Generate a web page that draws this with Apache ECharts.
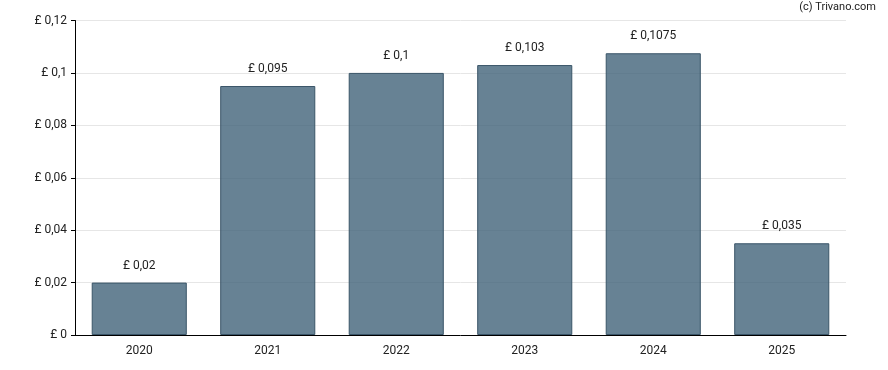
<!DOCTYPE html>
<html><head><meta charset="utf-8">
<script src="https://cdn.jsdelivr.net/npm/echarts@6/dist/echarts.min.js"></script>
<style>html,body{margin:0;padding:0;background:#fff}#c{width:888px;height:370px}</style>
</head><body><div id="c"></div>
<script>
const categories = ['2020','2021','2022','2023','2024','2025'];
const values = [0.02, 0.095, 0.1, 0.103, 0.1075, 0.035];
const yTicks = [0, 0.02, 0.04, 0.06, 0.08, 0.1, 0.12];
const fmt = v => v === 0 ? '£ 0' : '£ ' + String(v).replace('.', ',');
const chart = echarts.init(document.getElementById('c'), null, {renderer:'canvas'});
chart.setOption({
  animation:false,
  textStyle:{fontFamily:'Roboto'},
  graphic:[{type:'text', right:12, top:2, style:{text:'(c) Trivano.com', fontFamily:'Roboto', fontSize:11, fill:'#222'}}],
  grid:{left:75, right:42, top:20.5, bottom:35, containLabel:false},
  xAxis:{type:'category', data:categories,
    axisLine:{lineStyle:{color:'#000', width:1}},
    axisTick:{show:false},
    axisLabel:{color:'#222', fontSize:12, margin:10, fontFamily:'Roboto'}},
  yAxis:{type:'value', min:0, max:0.12, interval:0.02,
    axisLine:{show:true, lineStyle:{color:'#000'}},
    axisTick:{show:true, length:4, lineStyle:{color:'#000'}},
    splitLine:{lineStyle:{color:'#e6e6e6'}},
    axisLabel:{color:'#222', fontSize:12, margin:8, fontFamily:'Roboto', formatter:v=>fmt(+v.toFixed(4))}},
  series:[{type:'bar', data:values, barWidth:'74%',
    itemStyle:{color:'rgba(60,95,118,0.78)', borderColor:'#3a5568', borderWidth:1},
    label:{show:true, position:'top', distance:11, color:'#222', fontSize:12, fontFamily:'Roboto', formatter:p=>fmt(p.value)}}]
});
</script></body></html>
